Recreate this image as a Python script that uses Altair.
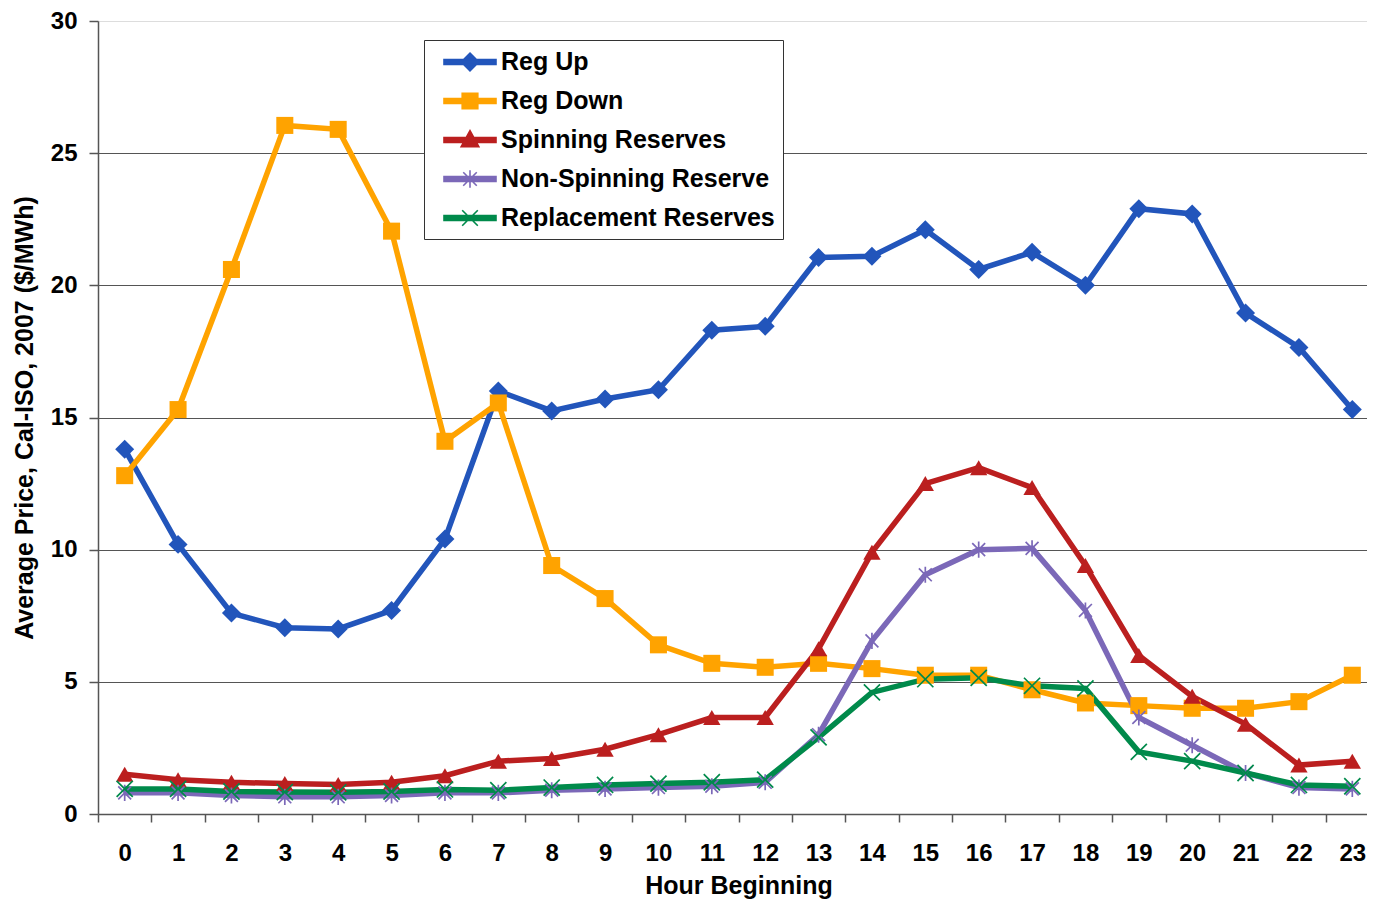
import altair as alt
import pandas as pd

hours = list(range(24))
series_names = ["Reg Up", "Reg Down", "Spinning Reserves", "Non-Spinning Reserve", "Replacement Reserves"]

reg_up = [13.8, 10.2, 7.6, 7.05, 7.0, 7.7, 10.4, 16.0, 15.25, 15.7, 16.05, 18.3,
          18.45, 21.05, 21.1, 22.1, 20.6, 21.25, 20.0, 22.9, 22.7, 18.95, 17.65, 15.3]
reg_down = [12.8, 15.3, 20.6, 26.05, 25.9, 22.05, 14.1, 15.55, 9.4, 8.15, 6.4, 5.7,
            5.55, 5.7, 5.5, 5.25, 5.25, 4.7, 4.2, 4.1, 4.0, 4.0, 4.25, 5.25]
spinning = [1.5, 1.3, 1.2, 1.15, 1.12, 1.2, 1.45, 2.0, 2.1, 2.45, 3.0, 3.65,
            3.65, 6.25, 9.9, 12.5, 13.1, 12.35, 9.4, 6.0, 4.45, 3.4, 1.85, 2.0]
non_spinning = [0.8, 0.8, 0.7, 0.65, 0.65, 0.7, 0.8, 0.8, 0.9, 0.95, 1.0, 1.05,
                1.2, 3.0, 6.55, 9.05, 10.0, 10.05, 7.7, 3.65, 2.6, 1.55, 1.0, 0.95]
replacement = [0.95, 0.95, 0.85, 0.83, 0.82, 0.85, 0.93, 0.9, 1.0, 1.1, 1.15, 1.2,
               1.3, 2.9, 4.6, 5.1, 5.15, 4.85, 4.75, 2.35, 2.0, 1.55, 1.1, 1.05]

colors = ["#2255BB", "#FFA300", "#BB1F1F", "#7B68B8", "#008A4B"]
y_ticks = [0, 5, 10, 15, 20, 25, 30]

rows = []
for name, vals in zip(series_names, [reg_up, reg_down, spinning, non_spinning, replacement]):
    for h, v in zip(hours, vals):
        rows.append({"hour": h, "series": name, "price": v})
df = pd.DataFrame(rows)

FONT = "Liberation Sans"

# marker shapes for the plot
asterisk = "M-0.8,-0.8L0.8,0.8M-0.8,0.8L0.8,-0.8M0,-1L0,1"
xmark = "M-1,-1L1,1M-1,1L1,-1"
shapes = ["diamond", "square", "triangle-up", asterisk, xmark]
sizes = [360, 290, 300, 260, 260]
filled = [True, True, True, False, False]

# legend symbols: line segment plus marker (unit = 13 px)
line_seg = "M-2,-0.19L2,-0.19L2,0.19L-2,0.19Z"
legend_paths = [
    line_seg + "M0,-0.68L0.68,0L0,0.68L-0.68,0Z",
    line_seg + "M-0.6,-0.6L0.6,-0.6L0.6,0.6L-0.6,0.6Z",
    line_seg + "M0,-0.72L0.68,0.52L-0.68,0.52Z",
    line_seg + "M-0.52,-0.52L0.52,0.52M-0.52,0.52L0.52,-0.52M0,-0.68L0,0.68",
    line_seg + "M-0.6,-0.6L0.6,0.6M-0.6,0.6L0.6,-0.6",
]
names_js = "[" + ",".join("'" + s + "'" for s in series_names) + "]"
shape_expr = ("[" + ",".join("'" + p + "'" for p in legend_paths) + "][indexof("
              + names_js + ", datum.value)]")
color_expr = ("[" + ",".join("'" + c + "'" for c in colors) + "][indexof("
              + names_js + ", datum.value)]")

legend = alt.Legend(
    title=None, orient="none", legendX=326, legendY=19, direction="vertical",
    fillColor="white", strokeColor="#333", padding=8, rowPadding=12,
    symbolSize=676, symbolOffset=24, labelOffset=17,
    symbolType={"expr": shape_expr},
    symbolFillColor={"expr": color_expr},
    symbolStrokeColor={"expr": color_expr},
    symbolStrokeWidth=1.6, symbolOpacity=1,
    labelFont=FONT, labelFontSize=25, labelFontWeight="bold", labelColor="black",
    labelLimit=500, labelExpr="datum.label + '\u00a0\u00a0'",
)

cscale = alt.Scale(domain=series_names, range=colors)

x_enc = alt.X("hour:O",
              scale=alt.Scale(type="band", range=[0, 1281], paddingInner=0, paddingOuter=0),
              axis=alt.Axis(title="Hour Beginning", labelAngle=0, tickBand="extent", grid=False,
                            tickSize=8, tickColor="#555", tickWidth=1.5,
                            domainColor="#555", domainWidth=1.5,
                            labelFont=FONT, labelFontSize=24, labelFontWeight="bold",
                            labelColor="black", labelPadding=19,
                            titleFont=FONT, titleFontSize=25, titleFontWeight="bold",
                            titleColor="black", titlePadding=8))
y_enc = alt.Y("price:Q",
              scale=alt.Scale(domain=[0, 30], nice=False),
              axis=alt.Axis(title="Average Price, Cal-ISO, 2007 ($/MWh)", values=y_ticks,
                            grid=True, gridColor="#555", gridWidth=1.2,
                            gridOpacity={"condition": {"test": "datum.value == 30 || datum.value == 0",
                                                       "value": 0}, "value": 1},
                            tickSize=9, tickColor="#555", tickWidth=1.5,
                            domainColor="#555", domainWidth=1.5,
                            labelFont=FONT, labelFontSize=24, labelFontWeight="bold",
                            labelColor="black", labelPadding=12,
                            titleFont=FONT, titleFontSize=25, titleFontWeight="bold",
                            titleColor="black", titlePadding=13))

lines = alt.Chart(df).mark_line(strokeWidth=5.5).encode(
    x=x_enc, y=y_enc,
    color=alt.Color("series:N", scale=cscale, legend=legend),
)

layers = [lines]
for i, name in enumerate(series_names):
    if filled[i]:
        mk = alt.Chart(df).mark_point(shape=shapes[i], size=sizes[i], filled=True,
                                      color=colors[i], opacity=1)
    else:
        mk = alt.Chart(df).mark_point(shape=shapes[i], size=sizes[i], filled=False,
                                      color=colors[i], opacity=1, strokeWidth=1.7)
    layers.append(mk.encode(x=x_enc, y=y_enc).transform_filter(alt.datum.series == name))

chart = alt.layer(*layers).properties(
    width=1269, height=793,
    autosize=alt.AutoSizeParams(type="none"),
    padding={"left": 90, "top": 13, "right": 0, "bottom": 86},
).configure_view(stroke=None).configure(background="white")

chart.save("out.html", embed_options={"renderer": "svg", "actions": False})
